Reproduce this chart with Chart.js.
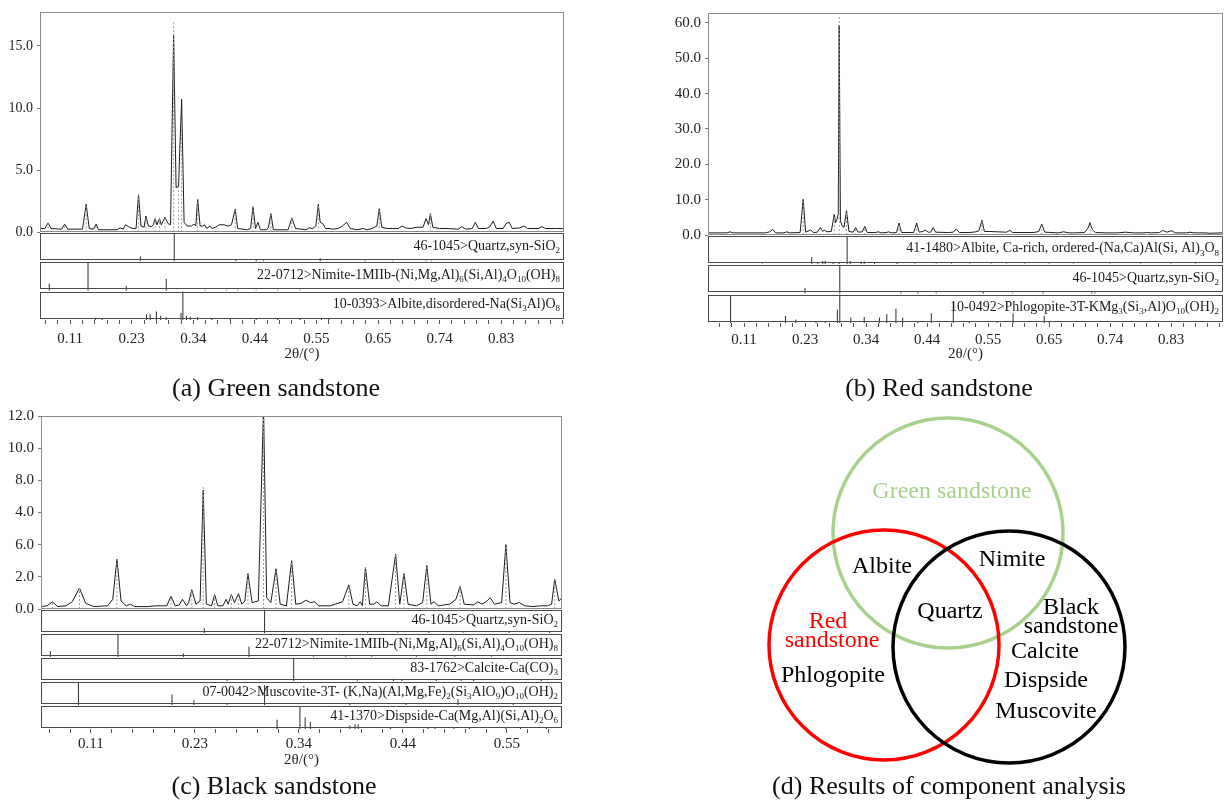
<!DOCTYPE html>
<html><head><meta charset="utf-8">
<script src="https://cdn.jsdelivr.net/npm/chart.js@4.4.1/dist/chart.umd.min.js"></script>
<style>
body{margin:0;background:#fff;width:1231px;height:803px;position:relative;overflow:hidden;font-family:"Liberation Serif","Times New Roman",serif;}
canvas{position:absolute;}
.cap{position:absolute;font-size:26px;color:#111;text-align:center;width:500px;line-height:30px;white-space:nowrap;}
</style></head><body>
<canvas id="ca" width="580" height="372" style="left:0;top:0"></canvas>
<canvas id="cb" width="571" height="372" style="left:660px;top:0"></canvas>
<canvas id="cc" width="580" height="372" style="left:0;top:400px"></canvas>
<canvas id="cd" width="420" height="370" style="left:760px;top:405px"></canvas>
<div class="cap" style="left:26px;top:373px">(a) Green sandstone</div>
<div class="cap" style="left:689px;top:373px">(b) Red sandstone</div>
<div class="cap" style="left:24px;top:771px">(c) Black sandstone</div>
<div class="cap" style="left:699px;top:771px">(d) Results of component analysis</div>
<script>
// ---------- tick labels ----------
const xTickValues = [10, 20, 30, 40, 50, 60, 70, 80];
const xTickLabelsAB = ['0.11', '0.23', '0.34', '0.44', '0.55', '0.65', '0.74', '0.83'];
const xTickLabelsC = ['0.11', '0.23', '0.34', '0.44', '0.55'];
const greenYTicks = [0, 5, 10, 15];
const greenYLabels = ['0.0', '5.0', '10.0', '15.0'];
const redYTicks = [0, 10, 20, 30, 40, 50, 60];
const redYLabels = ['0.0', '10.0', '20.0', '30.0', '40.0', '50.0', '60.0'];
const blackYTicks = [0, 2, 4, 6, 8, 10, 12];
const blackYLabels = ['0.0', '2.0', '6.0', '4.0', '8.0', '10.0', '12.0'];
const axisTitle = '2θ/(°)';

// ---------- (a) green sandstone: [2θ, intensity] ----------
const greenPattern = [[5.1,0.3],[5.9,0.3],[6.4,0.75],[6.9,0.3],[8.6,0.25],[9.1,0.65],[9.6,0.25],[12.0,0.25],[12.6,2.25],[13.1,0.3],[13.8,0.25],[14.2,0.65],[14.6,0.2],[17.6,0.2],[18.1,0.35],[18.6,0.25],[19.0,0.6],[19.6,0.4],[20.2,0.3],[20.7,0.3],[21.1,3.05],[21.5,0.5],[22.0,0.4],[22.3,1.3],[22.7,0.5],[23.2,0.45],[23.5,0.6],[23.8,1.1],[24.1,0.6],[24.5,1.1],[24.8,0.6],[25.4,1.2],[25.9,0.7],[26.3,0.6],[26.8,15.9],[27.2,3.6],[27.6,3.7],[28.1,10.7],[28.5,0.8],[29.0,0.5],[29.7,0.5],[30.1,0.65],[30.4,0.5],[30.7,2.65],[31.1,0.5],[31.5,0.5],[31.8,0.6],[32.2,0.3],[32.7,0.5],[33.0,0.3],[33.6,0.4],[34.2,0.6],[35.0,0.6],[35.6,0.5],[36.2,0.6],[36.8,1.85],[37.2,0.3],[38.8,0.2],[39.3,0.3],[39.7,2.05],[40.1,0.3],[40.5,0.8],[40.9,0.2],[41.9,0.2],[42.2,0.4],[42.6,1.5],[43.0,0.2],[45.4,0.2],[46.0,1.15],[46.6,0.3],[47.5,0.25],[48.3,0.2],[48.8,0.35],[49.4,0.3],[49.9,0.5],[50.3,2.25],[50.6,0.8],[51.0,0.7],[51.5,0.3],[52.2,0.3],[52.6,0.25],[53.5,0.3],[54.2,0.5],[54.9,0.8],[55.5,0.3],[56.6,0.2],[57.6,0.3],[58.2,0.2],[59.0,0.3],[59.8,0.5],[60.2,1.9],[60.6,0.4],[61.5,0.3],[62.3,0.3],[63.3,0.3],[63.9,0.5],[64.5,0.35],[65.3,0.3],[66.3,0.4],[67.3,0.4],[67.8,1.1],[68.2,0.6],[68.5,1.5],[68.9,0.4],[70.0,0.3],[71.2,0.3],[73.0,0.25],[73.6,0.45],[74.2,0.25],[75.3,0.3],[75.8,0.8],[76.3,0.3],[77.5,0.3],[78.1,0.4],[78.7,0.9],[79.2,0.3],[80.3,0.3],[80.8,0.7],[81.3,0.8],[81.8,0.3],[83.0,0.35],[83.7,0.5],[84.3,0.3],[86.0,0.3],[86.6,0.45],[87.2,0.3],[89.0,0.3],[90.2,0.3]];
const greenPeakMarks = [[6.4,0.75],[9.1,0.65],[12.6,2.25],[14.2,0.65],[21.1,3.05],[22.3,1.3],[23.8,1.1],[24.5,1.1],[25.4,1.2],[26.8,16.9],[27.6,3.7],[28.1,8.8],[30.7,2.65],[36.8,1.85],[39.7,2.05],[42.6,1.5],[46.0,1.15],[50.3,2.25],[60.2,1.9],[68.5,1.5]];
const greenQuartzSticks = [[21.4,18],[26.9,100],[36.9,5],[40.2,5],[41.4,4],[50.6,12],[57.9,4],[62.4,3],[67.8,4],[68.7,3]];
const greenNimiteSticks = [[6.6,25],[12.9,100],[19.1,17],[25.6,42],[31.9,3],[35.4,3],[37.2,3],[40.2,3],[43.7,3],[47.3,3]];
const greenAlbiteSticks = [[14.1,8],[15.2,5],[22.4,20],[23.0,20],[24.0,30],[24.7,15],[25.6,10],[28.0,25],[28.3,100],[28.9,15],[29.5,12],[30.7,10],[33.0,5],[36.0,5],[40.2,5],[43.7,4],[47.3,4],[50.8,4],[52.0,4]];

// ---------- (b) red sandstone ----------
const redPattern = [[4.1,0.6],[7.2,0.6],[7.7,0.9],[8.2,0.6],[13.5,0.6],[14.2,0.9],[14.7,1.6],[15.2,0.6],[16.5,0.6],[17.0,0.9],[17.5,0.6],[19.2,0.7],[19.7,10.1],[20.1,0.8],[20.9,1.4],[21.4,0.7],[22.0,0.8],[22.5,2.1],[22.9,1.0],[23.2,1.4],[23.6,0.9],[24.3,1.0],[24.8,5.9],[25.0,3.5],[25.2,4.2],[25.45,6.0],[25.6,59.4],[25.8,4.0],[26.1,2.5],[26.4,2.2],[26.8,6.9],[27.2,1.0],[27.9,0.8],[28.3,2.1],[28.7,0.8],[29.4,0.9],[29.8,2.5],[30.2,0.7],[31.5,0.7],[32.0,0.9],[32.5,0.6],[33.3,0.7],[33.7,0.9],[34.2,0.6],[35.0,0.7],[35.4,3.4],[35.8,0.7],[37.8,0.7],[38.3,3.4],[38.7,0.8],[39.3,1.0],[39.7,1.4],[40.2,0.8],[40.6,0.8],[41.0,2.1],[41.4,0.8],[43.5,0.7],[44.3,0.8],[44.8,1.7],[45.3,0.7],[47.0,0.7],[48.0,0.9],[48.5,1.2],[49.0,4.2],[49.4,1.0],[50.3,1.0],[51.5,0.9],[53.0,0.8],[53.6,1.3],[54.0,0.7],[57.5,0.7],[58.3,1.0],[58.8,3.1],[59.3,0.8],[61.5,0.6],[62.4,0.9],[63.3,0.6],[64.0,0.6],[65.8,0.7],[66.4,2.0],[66.7,3.5],[67.1,1.5],[67.6,0.7],[69.5,0.6],[71.2,0.6],[72.5,0.8],[73.8,0.6],[75.4,0.6],[76.0,0.7],[76.8,0.6],[78.1,0.7],[78.6,1.3],[79.3,0.8],[80.1,1.2],[80.7,0.6],[82.5,0.6],[83.1,0.8],[83.7,0.6],[85.7,0.6],[86.2,0.5],[88.5,0.6]];
const redPeakMarks = [[19.7,10.1],[24.8,5.9],[25.6,62.3],[26.8,6.9],[28.3,2.1],[29.8,2.5],[35.4,3.4],[38.3,3.4],[49.0,4.2],[58.8,3.1],[66.7,3.5]];
const redAlbiteSticks = [[13.0,3],[21.1,25],[22.1,8],[22.9,12],[23.3,12],[24.6,5],[25.6,8],[26.9,100],[27.4,12],[29.2,10],[29.7,10],[31.4,5],[35.1,5],[38.0,3],[41.5,3],[44.0,3],[47.0,3],[50.5,3],[53.0,3],[56.0,3],[60.0,3],[64.0,3],[70.0,3],[75.0,3],[80.0,3],[84.0,3]];
const redQuartzSticks = [[20.0,20],[25.7,100],[35.7,5],[38.5,5],[41.5,4],[49.2,8],[54.0,3],[59.0,5],[67.0,5],[67.5,4]];
const redPhlogopiteSticks = [[7.8,95],[16.8,25],[18.5,12],[21.8,5],[23.3,6],[25.3,47],[25.7,100],[27.5,19],[29.7,21],[32.2,19],[33.4,31],[34.9,50],[36.0,19],[38.5,5],[40.7,34],[44.3,75],[46.9,6],[51.5,5],[54.1,34],[59.2,25],[60.0,5]];

// ---------- (c) black sandstone ----------
const blackPattern = [[5.2,0.15],[5.8,0.2],[6.3,0.45],[6.8,0.15],[7.6,0.2],[8.2,0.45],[8.9,1.3],[9.5,0.35],[10.3,0.15],[11.6,0.2],[12.1,0.6],[12.5,3.1],[12.9,0.5],[13.4,0.2],[13.8,0.3],[14.2,0.15],[15.5,0.15],[16.2,0.2],[17.3,0.2],[17.7,0.8],[18.1,0.2],[18.5,0.25],[18.8,0.6],[19.2,0.2],[19.4,0.4],[19.7,1.2],[20.1,0.3],[20.5,0.5],[20.8,7.4],[21.1,0.3],[21.6,0.2],[21.9,0.9],[22.2,0.2],[22.7,0.2],[23.0,0.6],[23.2,0.3],[23.5,0.9],[23.8,0.4],[24.2,0.95],[24.5,0.3],[24.8,0.5],[25.1,2.2],[25.5,0.4],[26.1,0.5],[26.6,12.5],[26.9,0.7],[27.3,0.4],[27.8,2.5],[28.2,0.3],[28.8,0.2],[29.3,3.0],[29.7,0.3],[30.2,0.35],[30.7,0.55],[31.1,0.4],[31.5,0.45],[31.9,0.2],[33.0,0.2],[33.5,0.3],[34.2,0.45],[34.8,1.5],[35.2,0.3],[35.6,0.2],[35.9,0.45],[36.1,0.2],[36.4,2.6],[36.8,0.3],[37.2,0.3],[37.5,0.45],[37.9,0.2],[38.6,0.2],[39.3,3.4],[39.7,0.3],[40.1,2.2],[40.5,0.3],[41.3,0.2],[41.9,0.4],[42.3,2.7],[42.7,0.3],[43.0,0.45],[43.4,0.2],[44.5,0.3],[45.1,0.6],[45.5,1.4],[45.9,0.3],[46.8,0.25],[47.2,0.45],[47.6,0.3],[48.0,0.45],[48.4,0.7],[48.8,0.3],[49.5,0.4],[49.9,4.0],[50.3,0.4],[50.7,0.3],[51.2,0.4],[51.7,0.2],[52.5,0.15],[53.3,0.2],[53.9,0.2],[54.3,0.3],[54.6,1.85],[55.0,0.5],[55.3,0.7]];
const blackPeakMarks = [[6.3,0.45],[8.9,1.3],[12.5,3.1],[17.7,0.8],[19.7,1.2],[20.8,7.7],[21.9,0.9],[23.5,0.9],[24.2,0.95],[25.1,2.2],[26.6,12.5],[27.8,2.5],[29.3,3.0],[34.8,1.5],[36.4,2.6],[39.3,3.4],[40.1,2.2],[42.3,2.7],[45.5,1.4],[49.9,4.0],[54.6,1.85]];
const blackQuartzSticks = [[20.9,20],[26.7,100],[36.6,3],[39.5,3],[42.5,3],[45.8,3],[50.2,8],[54.1,4]];
const blackNimiteSticks = [[6.1,25],[12.6,100],[18.9,15],[25.2,45],[31.4,3],[34.5,3],[37.0,3],[41.3,3],[45.0,3],[48.5,3]];
const blackCalciteSticks = [[23.1,5],[29.5,100],[35.6,5],[39.1,10],[39.9,8],[43.2,5],[45.6,5],[46.8,5],[53.3,8]];
const blackMuscoviteSticks = [[8.8,100],[17.8,45],[19.9,20],[23.1,5],[26.7,85],[34.9,8],[40.3,8],[45.3,25],[50.6,5]];
const blackDispsideSticks = [[27.9,40],[30.1,100],[30.6,50],[31.1,30],[34.9,15],[35.4,20],[35.7,20],[38.8,5],[42.4,5],[43.1,5],[44.9,5],[46.4,5],[49.9,5],[51.3,5],[53.8,5]];

// ---------- (d) Venn ----------
const vennSets = ['Green sandstone', 'Red sandstone', 'Black sandstone'];
const vennColors = ['#a9d18e', '#ff0000', '#000000'];

// ---------- layout (positions / sizes, not data) ----------
const F = '"Liberation Serif","Times New Roman",serif';
const vennGeom = [{cx:188, cy:128, r:115}, {cx:124, cy:240, r:115}, {cx:249, cy:242, r:116}];
const vennText = [
  {t:'Green sandstone', x:192, y:87, c:'#a9d18e'},
  {t:'Albite', x:122, y:162, c:'#000'},
  {t:'Nimite', x:252, y:155, c:'#000'},
  {t:'Quartz', x:190, y:207, c:'#000'},
  {t:'Red', x:68, y:217, c:'#ff0000'},
  {t:'sandstone', x:72, y:236, c:'#ff0000'},
  {t:'Phlogopite', x:73, y:271, c:'#000'},
  {t:'Black', x:311, y:203, c:'#000'},
  {t:'sandstone', x:311, y:222, c:'#000'},
  {t:'Calcite', x:285, y:247, c:'#000'},
  {t:'Dispside', x:286, y:276, c:'#000'},
  {t:'Muscovite', x:286, y:307, c:'#000'}
];

function segs(pairs){
  const d = [];
  pairs.forEach(([x, h]) => { d.push({x, y:0}, {x, y:h}, {x, y:null}); });
  return d;
}
function rich(ctx, str, xRight, yMid, size){
  const parts = []; const re = /_\{([^}]*)\}/g; let last = 0, m;
  while ((m = re.exec(str))) { if (m.index > last) parts.push([str.slice(last, m.index), false]); parts.push([m[1], true]); last = re.lastIndex; }
  if (last < str.length) parts.push([str.slice(last), false]);
  const f = sub => (sub ? Math.round(size * 0.62) : size) + 'px ' + F;
  let w = 0; parts.forEach(p => { ctx.font = f(p[1]); w += ctx.measureText(p[0]).width; });
  let x = xRight - w; ctx.textBaseline = 'middle'; ctx.textAlign = 'left';
  parts.forEach(p => { ctx.font = f(p[1]); ctx.fillText(p[0], x, yMid + (p[1] ? size * 0.32 : 0)); x += ctx.measureText(p[0]).width; });
}

function xrd(id, o){
  const phaseIds = o.phases.map((_, i) => 's' + i);
  const scales = {
    x: {type:'linear', min:o.xMin, max:o.xMax, position:'bottom',
      afterBuildTicks: s => { const t = []; for (let v = 6; v <= o.xMax; v += 2) t.push({value:v}); s.ticks = t; },
      ticks: {autoSkip:false, maxRotation:0, padding:o.xPad, font:{family:F, size:15}, color:'#222',
        callback: v => { const i = xTickValues.indexOf(v); return (i >= 0 && i < o.xLabels.length) ? o.xLabels[i] : ''; }},
      grid: {display:true, drawOnChartArea:false, drawTicks:true, tickLength:4, color:'#555'},
      border: {display:false},
      title: {display:true, text:axisTitle, font:{family:F, size:15}, color:'#222', padding:{top:0, bottom:o.titlePad}},
      afterFit: s => { s.height = o.xAxisH; }
    },
    y: {type:'linear', position:'left', stack:'p', stackWeight:o.mainW, weight:10, min:0, max:o.yMax,
      afterBuildTicks: s => { s.ticks = o.yTicks.map(v => ({value:v})); },
      ticks: {autoSkip:false, padding:4, font:{family:F, size:o.yFont}, color:'#222', callback: (v, i) => o.yLabels[i]},
      grid: {drawOnChartArea:false, tickLength:3, color:'#777'},
      border: {display:false},
      afterFit: s => { s.width = o.yAxisW; }
    }
  };
  o.phases.forEach((ph, i) => {
    scales['s' + i] = {type:'linear', position:'left', stack:'p', stackWeight:o.stickW, weight:9 - i, min:0, max:103,
      ticks:{display:false}, grid:{display:false}, border:{display:false}, afterFit: s => { s.width = 0; }};
  });
  const datasets = [
    {data:segs(o.marks), yAxisID:'y', borderColor:'#9a9a9a', borderWidth:1, borderDash:[2,2], pointRadius:0, spanGaps:false},
    {data:o.pattern.map(([x, y]) => ({x, y})), yAxisID:'y', borderColor:'#1c1c1c', borderWidth:1, pointRadius:0, tension:0},
    ...o.phases.map((ph, i) => ({data:segs(ph.sticks), yAxisID:'s' + i, borderColor:'#2a2a2a', borderWidth:1, pointRadius:0, spanGaps:false}))
  ];
  const frame = {
    id:'frame',
    afterDatasetsDraw(chart){
      const {ctx, chartArea:a} = chart;
      ctx.save(); ctx.lineWidth = 1;
      const m = chart.scales.y;
      ctx.strokeStyle = '#8a8a8a';
      ctx.strokeRect(Math.round(a.left) + 0.5, Math.round(m.top) + 0.5, Math.round(a.right - a.left) - 1, Math.round(m.bottom - m.top) - 1);
      phaseIds.forEach((sid, i) => {
        const s = chart.scales[sid];
        ctx.strokeStyle = '#4a4a4a';
        ctx.strokeRect(Math.round(a.left) + 0.5, Math.round(s.top) + 1.5, Math.round(a.right - a.left) - 1, Math.round(s.bottom - s.top) - 3);
        ctx.fillStyle = '#1a1a1a';
        rich(ctx, o.phases[i].label, a.right - 4, (s.top + s.bottom) / 2 - 1, o.labelSize);
      });
      ctx.restore();
    }
  };
  new Chart(document.getElementById(id), {
    type:'line', data:{datasets},
    options:{responsive:false, animation:false, events:[], layout:{padding:o.padding},
      plugins:{legend:{display:false}, tooltip:{enabled:false}}, scales},
    plugins:[frame]
  });
}

xrd('ca', {xMin:5.1, xMax:90.2, yMax:17.7, yTicks:greenYTicks, yLabels:greenYLabels, yFont:14, xLabels:xTickLabelsAB,
  pattern:greenPattern, marks:greenPeakMarks,
  phases:[
    {label:'46-1045>Quartz,syn-SiO_{2}', sticks:greenQuartzSticks},
    {label:'22-0712>Nimite-1MIIb-(Ni,Mg,Al)_{6}(Si,Al)_{4}O_{10}(OH)_{8}', sticks:greenNimiteSticks},
    {label:'10-0393>Albite,disordered-Na(Si_{3}Al)O_{8}', sticks:greenAlbiteSticks}
  ],
  padding:{top:8, right:16, left:0, bottom:0}, yAxisW:40, xAxisH:52, mainW:223, stickW:29.67, xPad:6, titlePad:9, labelSize:14});

xrd('cb', {xMin:4.1, xMax:88.5, yMax:62.8, yTicks:redYTicks, yLabels:redYLabels, yFont:15, xLabels:xTickLabelsAB,
  pattern:redPattern, marks:redPeakMarks,
  phases:[
    {label:'41-1480>Albite, Ca-rich, ordered-(Na,Ca)Al(Si, Al)_{3}O_{8}', sticks:redAlbiteSticks},
    {label:'46-1045>Quartz,syn-SiO_{2}', sticks:redQuartzSticks},
    {label:'10-0492>Phlogopite-3T-KMg_{3}(Si_{3},Al)O_{10}(OH)_{2}', sticks:redPhlogopiteSticks}
  ],
  padding:{top:13, right:8, left:0, bottom:0}, yAxisW:48, xAxisH:49, mainW:222, stickW:29.33, xPad:4, titlePad:9, labelSize:14});

xrd('cc', {xMin:5.2, xMax:55.3, yMax:12, yTicks:blackYTicks, yLabels:blackYLabels, yFont:15, xLabels:xTickLabelsC,
  pattern:blackPattern, marks:blackPeakMarks,
  phases:[
    {label:'46-1045>Quartz,syn-SiO_{2}', sticks:blackQuartzSticks},
    {label:'22-0712>Nimite-1MIIb-(Ni,Mg,Al)_{6}(Si,Al)_{4}O_{10}(OH)_{8}', sticks:blackNimiteSticks},
    {label:'83-1762>Calcite-Ca(CO)_{3}', sticks:blackCalciteSticks},
    {label:'07-0042>Muscovite-3T- (K,Na)(Al,Mg,Fe)_{2}(Si_{3}AlO_{9})O_{10}(OH)_{2}', sticks:blackMuscoviteSticks},
    {label:'41-1370>Dispside-Ca(Mg,Al)(Si,Al)_{2}O_{6}', sticks:blackDispsideSticks}
  ],
  padding:{top:16, right:18, left:0, bottom:0}, yAxisW:41, xAxisH:43, mainW:193, stickW:24, xPad:2, titlePad:3, labelSize:14});

// ---------- Venn ----------
const vennLabels = {
  id:'vennLabels',
  afterDatasetsDraw(chart){
    const {ctx, scales:{x, y}} = chart;
    ctx.save(); ctx.textAlign = 'center'; ctx.textBaseline = 'middle'; ctx.font = '24px ' + F;
    vennText.forEach(t => { ctx.fillStyle = t.c; ctx.fillText(t.t, x.getPixelForValue(t.x), y.getPixelForValue(t.y)); });
    ctx.restore();
  }
};
new Chart(document.getElementById('cd'), {
  type:'scatter',
  data:{labels:vennSets, datasets:[{
    data: vennSets.map((n, i) => ({x:vennGeom[i].cx, y:vennGeom[i].cy})),
    pointRadius: c => { const s = c.chart.scales.x; return s.getPixelForValue(vennGeom[c.dataIndex].r) - s.getPixelForValue(0); },
    pointBorderColor: vennColors, pointBackgroundColor:'rgba(0,0,0,0)', pointBorderWidth:3.5, clip:false
  }]},
  options:{responsive:false, animation:false, events:[], layout:{padding:0},
    plugins:{legend:{display:false}, tooltip:{enabled:false}},
    scales:{x:{display:false, min:0, max:420}, y:{display:false, min:0, max:370, reverse:true}}},
  plugins:[vennLabels]
});
</script>
</body></html>
